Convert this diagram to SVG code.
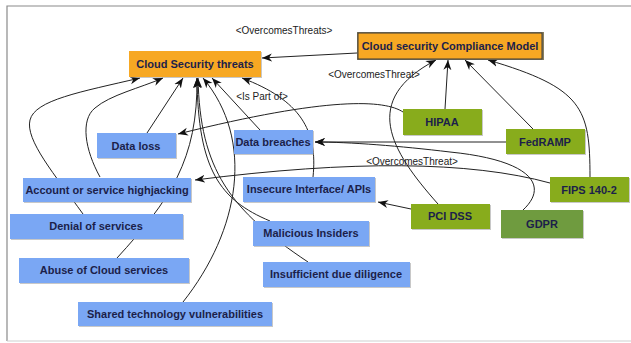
<svg xmlns="http://www.w3.org/2000/svg" width="631" height="343" viewBox="0 0 631 343">
  <style>
    .box { stroke: none; }
    .shadow { fill: #9a9a9a; opacity: 0.55; }
    .threat { fill: #7aa7f4; }
    .root { fill: #f7a823; }
    .std { fill: #88ac1c; }
    .std2 { fill: #6f9b3f; }
    .lbl { font-family: "Liberation Sans", Arial, sans-serif; font-size: 11px; font-weight: bold; fill: #1c1f4a; text-anchor: middle; }
    .rel { font-family: "Liberation Sans", Arial, sans-serif; font-size: 10px; fill: #222; text-anchor: middle; }
    .edge { fill: none; stroke: #222; stroke-width: 1; marker-end: url(#arrow); }
  </style>
  <defs>
    <marker id="arrow" markerUnits="userSpaceOnUse" markerWidth="11" markerHeight="9" refX="10" refY="4.5" orient="auto">
      <path d="M0,0.5 L10,4.5 L0,8.5 L3,4.5 Z" fill="#111"/>
    </marker>
  </defs>

  <rect x="0" y="0" width="631" height="343" fill="#ffffff"/>
  <!-- frame -->
  <path d="M7,341 L7,6 L631,6" fill="none" stroke="#8a8a8a" stroke-width="1.2"/>
  <path d="M7,341 L631,341" fill="none" stroke="#cfcfcf" stroke-width="1.2"/>

  <!-- connectors -->
  <g id="connectors">
    <path class="edge" d="M357,53 L262,58"/>
    <path class="edge" d="M445,109 L448,60"/>
    <path class="edge" d="M533,129 L465,60"/>
    <path class="edge" d="M590,177 C590,108 583,88 488,60"/>
    <path class="edge" d="M438,204 C390,150 360,100 436,60"/>
    <path class="edge" d="M506,142 L315,142"/>
    <path class="edge" d="M523,210 C550,185 530,160 450,152 C400,146 350,142 315,142"/>
    <path class="edge" d="M403,112 C385,100 330,96 178,134"/>
    <path class="edge" d="M550,183 Q430,150 195,180"/>
    <path class="edge" d="M411,209 L378,202"/>
    <path class="edge" d="M147,133 L183,78"/>
    <path class="edge" d="M260,130 L212,78"/>
    <path class="edge" d="M313,177 C318,130 300,100 242,78"/>
    <path class="edge" d="M100,177 C85,150 80,120 95,108 C110,95 140,88 163,78"/>
    <path class="edge" d="M83,214 C55,175 25,140 30,120 C35,100 80,92 140,78"/>
    <path class="edge" d="M117,258 C170,200 198,160 197,78"/>
    <path class="edge" d="M270,221 C220,200 198,170 197,78"/>
    <path class="edge" d="M308,262 C230,210 200,170 198,78"/>
    <path class="edge" d="M183,302 C240,230 255,140 203,78"/>
  </g>

  <!-- relation labels -->
  <g id="relation-labels">
    <text class="rel" x="284" y="34">&lt;OvercomesThreats&gt;</text>
    <text class="rel" x="374" y="78">&lt;OvercomesThreat&gt;</text>
    <text class="rel" x="262" y="100">&lt;Is Part of&gt;</text>
    <text class="rel" x="412" y="165">&lt;OvercomesThreat&gt;</text>
  </g>

  <!-- nodes -->
  <g id="cloud-security-threats">
    <rect class="shadow" x="130" y="52" width="132" height="26"/>
    <rect class="box root" x="129" y="51" width="132" height="26"/>
    <text class="lbl" x="195" y="68">Cloud Security threats</text>
  </g>
  <g id="compliance-model">
    <rect x="357" y="32" width="187" height="28" fill="#8a8060"/>
    <rect x="358" y="33" width="184" height="26" fill="#f7a823" stroke="#3a3a3a" stroke-width="1"/>
    <text class="lbl" x="450" y="50">Cloud security Compliance Model</text>
  </g>
  <g id="hipaa">
    <rect class="shadow" x="404" y="110" width="79" height="26"/>
    <rect class="box std" x="403" y="109" width="79" height="26"/>
    <text class="lbl" x="442" y="126">HIPAA</text>
  </g>
  <g id="fedramp">
    <rect class="shadow" x="507" y="130" width="79" height="25"/>
    <rect class="box std" x="506" y="129" width="79" height="25"/>
    <text class="lbl" x="545" y="146">FedRAMP</text>
  </g>
  <g id="fips-140-2">
    <rect class="shadow" x="551" y="178" width="79" height="25"/>
    <rect class="box std" x="550" y="177" width="79" height="25"/>
    <text class="lbl" x="589" y="194">FIPS 140-2</text>
  </g>
  <g id="pci-dss">
    <rect class="shadow" x="412" y="205" width="79" height="25"/>
    <rect class="box std" x="411" y="204" width="79" height="25"/>
    <text class="lbl" x="450" y="220">PCI DSS</text>
  </g>
  <g id="gdpr">
    <rect class="shadow" x="502" y="211" width="82" height="28"/>
    <rect class="box std2" x="501" y="210" width="82" height="28"/>
    <text class="lbl" x="542" y="228">GDPR</text>
  </g>
  <g id="data-loss">
    <rect class="shadow" x="98" y="134" width="79" height="25"/>
    <rect class="box threat" x="97" y="133" width="79" height="25"/>
    <text class="lbl" x="136" y="150">Data loss</text>
  </g>
  <g id="data-breaches">
    <rect class="shadow" x="235" y="131" width="79" height="24"/>
    <rect class="box threat" x="234" y="130" width="79" height="24"/>
    <text class="lbl" x="273" y="146">Data breaches</text>
  </g>
  <g id="account-hijacking">
    <rect class="shadow" x="24" y="179" width="168" height="24"/>
    <rect class="box threat" x="23" y="178" width="168" height="24"/>
    <text class="lbl" x="107" y="194">Account or service highjacking</text>
  </g>
  <g id="insecure-apis">
    <rect class="shadow" x="244" y="178" width="132" height="25"/>
    <rect class="box threat" x="243" y="177" width="132" height="25"/>
    <text class="lbl" x="309" y="193">Insecure Interface/ APIs</text>
  </g>
  <g id="denial-of-services">
    <rect class="shadow" x="11" y="215" width="173" height="25"/>
    <rect class="box threat" x="10" y="214" width="173" height="25"/>
    <text class="lbl" x="96" y="230">Denial of services</text>
  </g>
  <g id="malicious-insiders">
    <rect class="shadow" x="254" y="222" width="116" height="25"/>
    <rect class="box threat" x="253" y="221" width="116" height="25"/>
    <text class="lbl" x="311" y="237">Malicious Insiders</text>
  </g>
  <g id="abuse-of-cloud">
    <rect class="shadow" x="20" y="259" width="170" height="25"/>
    <rect class="box threat" x="19" y="258" width="170" height="25"/>
    <text class="lbl" x="104" y="274">Abuse of Cloud services</text>
  </g>
  <g id="insufficient-diligence">
    <rect class="shadow" x="264" y="263" width="147" height="25"/>
    <rect class="box threat" x="263" y="262" width="147" height="25"/>
    <text class="lbl" x="336" y="278">Insufficient due diligence</text>
  </g>
  <g id="shared-tech">
    <rect class="shadow" x="79" y="303" width="194" height="24"/>
    <rect class="box threat" x="78" y="302" width="194" height="24"/>
    <text class="lbl" x="175" y="318">Shared technology vulnerabilities</text>
  </g>
</svg>
